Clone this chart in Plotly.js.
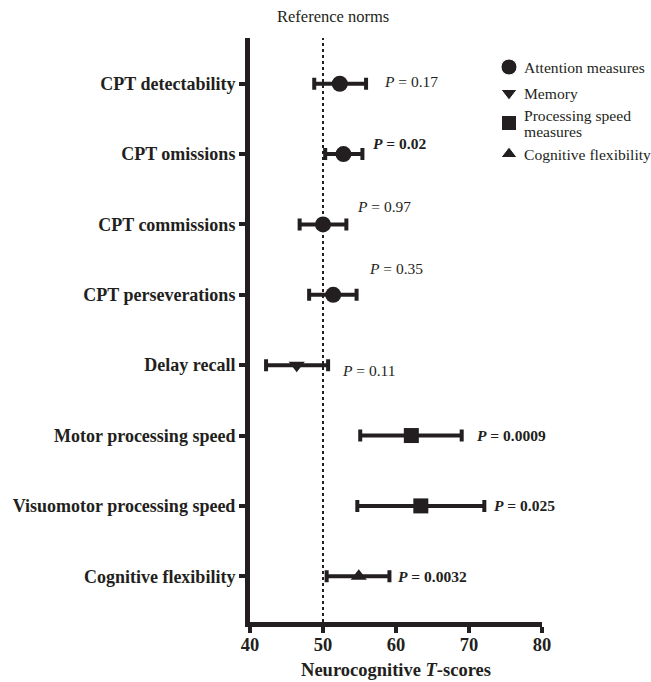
<!DOCTYPE html>
<html>
<head>
<meta charset="utf-8">
<script src="https://cdn.plot.ly/plotly-3.0.1.min.js"></script>
<style>html,body{margin:0;padding:0;background:#fff;}#chart{width:651px;height:682px;}</style>
</head>
<body>
<div id="chart"></div>
<script>
// ---- data ----
const categories = ["CPT detectability","CPT omissions","CPT commissions","CPT perseverations","Delay recall","Motor processing speed","Visuomotor processing speed","Cognitive flexibility"];
const groups = ["Attention measures","Attention measures","Attention measures","Attention measures","Memory","Processing speed measures","Processing speed measures","Cognitive flexibility"];
const means = [52.3, 52.8, 50.0, 51.4, 46.4, 62.1, 63.4, 54.9];
const lower = [48.8, 50.3, 46.8, 48.1, 42.2, 55.1, 54.7, 50.5];
const upper = [55.9, 55.4, 53.2, 54.6, 50.7, 69.0, 72.1, 59.1];
const pLabels = ["0.17","0.02","0.97","0.35","0.11","0.0009","0.025","0.0032"];
const pSignificant = [false,true,false,false,false,true,true,true];
const groupOrder = ["Attention measures","Memory","Processing speed measures","Cognitive flexibility"];
const legendLines = [["Attention measures"],["Memory"],["Processing speed","measures"],["Cognitive flexibility"]];
const referenceNorm = 50;
const xTicks = [40,50,60,70,80];

// ---- styles / layout positions ----
const INK = "#231f20";
const FONT = "Liberation Serif";
const symbols = {"Attention measures":"circle","Memory":"triangle-down","Processing speed measures":"square","Cognitive flexibility":"triangle-up"};
const msize = {"Attention measures":16,"Memory":14,"Processing speed measures":15,"Cognitive flexibility":14};
const labelShiftX = [16, 9, 9, 10, 12, 13, 8, 7];
const labelShiftY = [2, 11, 18, 26, -5, 0, 0, 0];
// legend drawn in pixel space of an overlay axis
const PLOT_L = 250, PLOT_R = 542, PLOT_T = 38, PLOT_B = 622;
const legendMarkerX = 509, legendTextX = 522;
const legendRowY = [67, 93, 123, 154];
const legendLineGap = 16;

const traces = groupOrder.map(g => {
  const idx = groups.map((v,i)=>v===g?i:-1).filter(i=>i>=0);
  return {
    type: "scatter", mode: "markers", name: g, showlegend:false,
    x: idx.map(i=>means[i]),
    y: idx.map(i=>categories[i]),
    marker: {symbol: symbols[g], size: msize[g], color: INK, opacity:1},
    error_x: {type:"data", symmetric:false,
      array: idx.map(i=>upper[i]-means[i]),
      arrayminus: idx.map(i=>means[i]-lower[i]),
      color: INK, thickness: 4, width: 6},
    cliponaxis: false
  };
});
// legend markers
traces.push({
  type:"scatter", mode:"markers", xaxis:"x2", yaxis:"y2", showlegend:false,
  x: groupOrder.map(()=>legendMarkerX), y: legendRowY,
  marker:{symbol: groupOrder.map(g=>symbols[g]), size: groupOrder.map(g=>msize[g]), color: INK, opacity:1},
  cliponaxis:false
});

const annotations = categories.map((c,i)=>{
  const t = "<i>P</i> = " + pLabels[i];
  return {
    x: upper[i], y: c, xref:"x", yref:"y", xanchor:"left", yanchor:"middle",
    text: pSignificant[i] ? "<b>"+t+"</b>" : t,
    showarrow:false, xshift: labelShiftX[i], yshift: labelShiftY[i],
    font:{family:FONT, size:15.5, color:INK}
  };
});
annotations.push({
  x: referenceNorm, y: 1, xref:"x", yref:"paper", yanchor:"bottom", yshift: 10, xshift: 10,
  text:"Reference norms", showarrow:false, font:{family:FONT, size:16.5, color:INK}
});
legendLines.forEach((lines, k) => {
  lines.forEach((ln, j) => {
    const off = (j - (lines.length-1)/2) * legendLineGap;
    annotations.push({
      x: legendTextX, y: legendRowY[k] + off, xref:"x2", yref:"y2",
      xanchor:"left", yanchor:"middle", text: ln, showarrow:false,
      font:{family:FONT, size:15.6, color:INK}
    });
  });
});

const layout = {
  width: 651, height: 682,
  margin: {l:PLOT_L, r:651-PLOT_R, t:PLOT_T, b:682-PLOT_B, autoexpand:false},
  paper_bgcolor:"#fff", plot_bgcolor:"#fff",
  font:{family:FONT, color:INK},
  showlegend: false,
  xaxis: {
    range:[40,80], tickvals: xTicks, ticktext: xTicks.map(String),
    showgrid:false, zeroline:false, showline:true, linewidth:5, linecolor:INK,
    ticks:"outside", ticklen:6, tickwidth:4, tickcolor:INK, ticklabelstandoff:-4,
    tickfont:{family:FONT, size:18.5, color:INK, weight:"bold"},
    title:{text:"<b>Neurocognitive <i>T</i>-scores</b>", font:{family:FONT, size:18.5, color:INK}, standoff:10}
  },
  yaxis: {
    type:"category", categoryarray: categories, categoryorder:"array",
    range:[7.65,-0.65],
    showgrid:false, zeroline:false, showline:true, linewidth:5, linecolor:INK,
    ticks:"outside", ticklen:6, tickwidth:4, tickcolor:INK,
    tickfont:{family:FONT, size:18, color:INK, weight:"bold"}
  },
  xaxis2: {overlaying:"x", anchor:"y2", range:[PLOT_L, PLOT_R], visible:false, fixedrange:true},
  yaxis2: {overlaying:"y", anchor:"x2", range:[PLOT_B, PLOT_T], visible:false, fixedrange:true},
  shapes: [{type:"line", xref:"x", yref:"paper", x0:referenceNorm, x1:referenceNorm, y0:0, y1:1,
    line:{color:INK, width:2, dash:"dot"}, layer:"below"}],
  annotations: annotations
};

Plotly.newPlot("chart", traces, layout, {displayModeBar:false, staticPlot:true});
</script>
</body>
</html>
